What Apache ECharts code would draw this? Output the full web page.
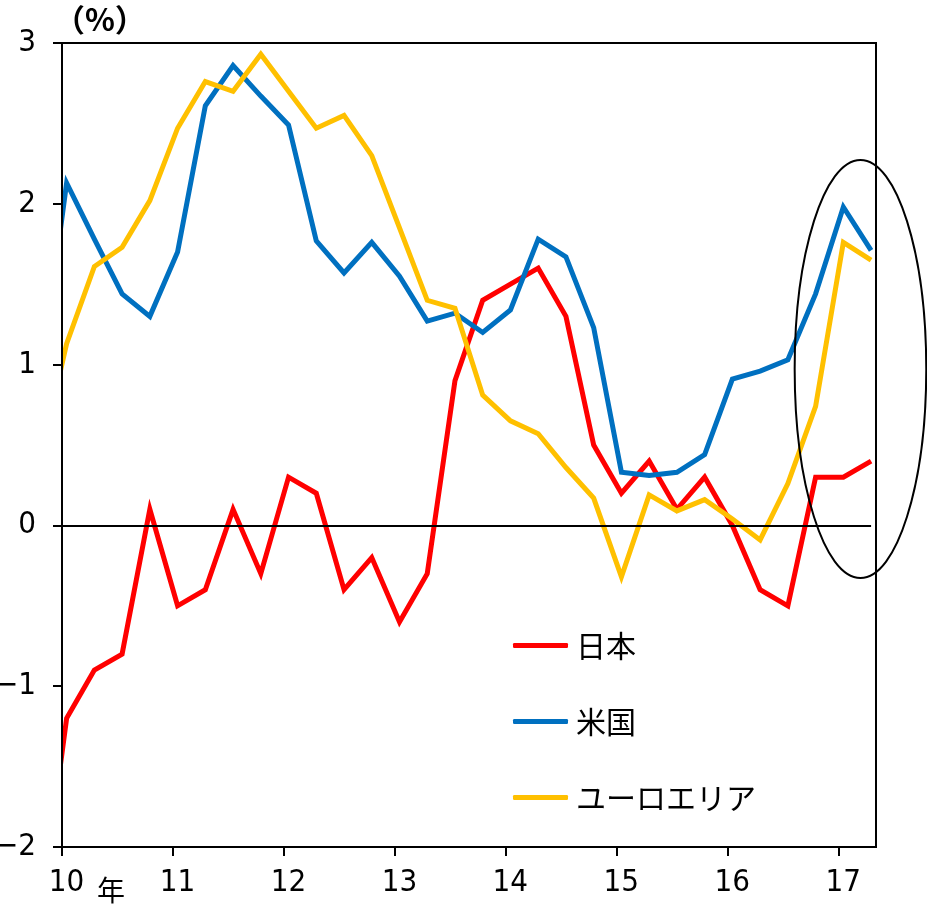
<!DOCTYPE html>
<html><head><meta charset="utf-8">
<script src="https://cdn.jsdelivr.net/npm/echarts@6/dist/echarts.min.js"></script>
<style>html,body{margin:0;padding:0;background:#fff}#c{width:927px;height:912px}</style>
</head><body><div id="c"></div>
<script>
// Quarterly periods (first one only feeds the clipped start of the lines)
const quarters = ['09Q4',
  '10Q1','10Q2','10Q3','10Q4','11Q1','11Q2','11Q3','11Q4',
  '12Q1','12Q2','12Q3','12Q4','13Q1','13Q2','13Q3','13Q4',
  '14Q1','14Q2','14Q3','14Q4','15Q1','15Q2','15Q3','15Q4',
  '16Q1','16Q2','16Q3','16Q4','17Q1','17Q2'];
const japan = [-2.5, -1.2, -0.9, -0.8, 0.1, -0.5, -0.4, 0.1, -0.3, 0.3, 0.2, -0.4, -0.2, -0.6, -0.3,
  0.9, 1.4, 1.5, 1.6, 1.3, 0.5, 0.2, 0.4, 0.1, 0.3, 0.0, -0.4, -0.5, 0.3, 0.3, 0.4];
const us = [0.83, 2.13, 1.78, 1.44, 1.30, 1.70, 2.61, 2.86, 2.67, 2.49, 1.77, 1.57, 1.76, 1.55, 1.27,
  1.32, 1.20, 1.34, 1.78, 1.67, 1.23, 0.33, 0.31, 0.33, 0.44, 0.91, 0.96, 1.03, 1.44, 1.98, 1.71];
const euro = [0.37, 1.13, 1.61, 1.73, 2.02, 2.47, 2.76, 2.70, 2.93, 2.70, 2.47, 2.55, 2.30, 1.85, 1.40,
  1.35, 0.81, 0.65, 0.57, 0.36, 0.17, -0.32, 0.19, 0.09, 0.16, 0.04, -0.09, 0.26, 0.74, 1.76, 1.65];
const yearTicks = [10, 11, 12, 13, 14, 15, 16, 17];
const seriesNames = ['日本', '米国', 'ユーロエリア'];
const colors = ['#FF0000', '#0070C0', '#FFC000'];
const unitLabel = '（%）';
const yearLabel = '年';
// highlighted ellipse (data coords): center year/value, radii
const ellipseCenter = [17.196, 0.973];
const ellipseRadii = [0.593, 1.30];

function qx(q) { const y = +q.slice(0, 2); const n = +q.slice(3); return y + (n - 1) * 0.25 + 1 / 24; }
const xs = quarters.map(qx);
const toPairs = arr => arr.map((v, i) => [xs[i], v]);

const numFont = "'Liberation Sans Narrow','DejaVu Sans Condensed','Liberation Sans',sans-serif";
const jpFont = "'Noto Sans CJK JP',sans-serif";

const chart = echarts.init(document.getElementById('c'), null, { renderer: 'canvas' });
const dataSets = [japan, us, euro];
const series = dataSets.map((d, i) => ({
  name: seriesNames[i], type: 'line', data: toPairs(d), symbol: 'none', clip: true,
  lineStyle: { color: colors[i], width: 5, join: 'miter' }, itemStyle: { color: colors[i] },
  z: 2, animation: false
}));
series[0].markLine = {
  silent: true, symbol: 'none', animation: false,
  lineStyle: { color: '#000', width: 2, type: 'solid' }, label: { show: false },
  data: [[{ coord: [yearTicks[0], 0] }, { coord: [xs[xs.length - 1], 0] }]]
};

chart.setOption({
  animation: false,
  backgroundColor: '#fff',
  grid: { left: 62, right: 51, top: 43, bottom: 65, containLabel: false, outerBoundsMode: 'none',
    show: true, borderColor: '#000', borderWidth: 2, backgroundColor: 'transparent' },
  xAxis: {
    type: 'value', min: 10, max: 17.336, interval: 1, z: 10,
    axisLine: { show: true, onZero: false, lineStyle: { color: '#000', width: 2 } },
    axisTick: { show: true, inside: false, length: 9, lineStyle: { color: '#000', width: 2 }, customValues: yearTicks },
    axisLabel: { customValues: yearTicks, margin: 20, color: '#000', fontSize: 31, fontFamily: numFont, padding: [0, 0, 0, 9] },
    splitLine: { show: false }
  },
  yAxis: {
    type: 'value', min: -2, max: 3, interval: 1, z: 10,
    axisLine: { show: true, lineStyle: { color: '#000', width: 2 } },
    axisTick: { show: true, inside: false, length: 9, lineStyle: { color: '#000', width: 2 } },
    axisLabel: { margin: 26, color: '#000', fontSize: 31, fontFamily: numFont, formatter: v => String(v).replace('-', '−') },
    splitLine: { show: false }
  },
  legend: {
    orient: 'vertical', left: 513, top: 630, padding: 0, itemWidth: 55, itemHeight: 5, itemGap: 45,
    icon: 'roundRect', data: seriesNames,
    textStyle: { color: '#000', fontSize: 30, fontFamily: jpFont, lineHeight: 31, padding: [0, 0, 0, 3] }
  },
  series: series
});

const c = chart.convertToPixel({ gridIndex: 0 }, ellipseCenter);
const e = chart.convertToPixel({ gridIndex: 0 }, [ellipseCenter[0] + ellipseRadii[0], ellipseCenter[1] - ellipseRadii[1]]);
const gl = chart.convertToPixel({ gridIndex: 0 }, [10, 3]);
const gb = chart.convertToPixel({ gridIndex: 0 }, [10, -2]);
chart.setOption({
  graphic: [
    // white mask left of the y axis so the clipped lines stop exactly at the axis
    { type: 'rect', z: 5, silent: true, shape: { x: gl[0] - 12, y: gl[1], width: 11, height: gb[1] - gl[1] },
      style: { fill: '#fff' } },
    { type: 'ellipse', z: 100, shape: { cx: c[0], cy: c[1], rx: e[0] - c[0], ry: e[1] - c[1] },
      style: { fill: 'none', stroke: '#000', lineWidth: 2 } },
    { type: 'text', left: 54, top: 4, z: 100, style: { text: unitLabel, fill: '#000', font: "bold 31px 'Noto Sans CJK JP',sans-serif" } },
    { type: 'text', left: 97, top: 876, z: 100, style: { text: yearLabel, fill: '#000', font: "28px 'Noto Sans CJK JP',sans-serif" } }
  ]
});
</script>
</body></html>
